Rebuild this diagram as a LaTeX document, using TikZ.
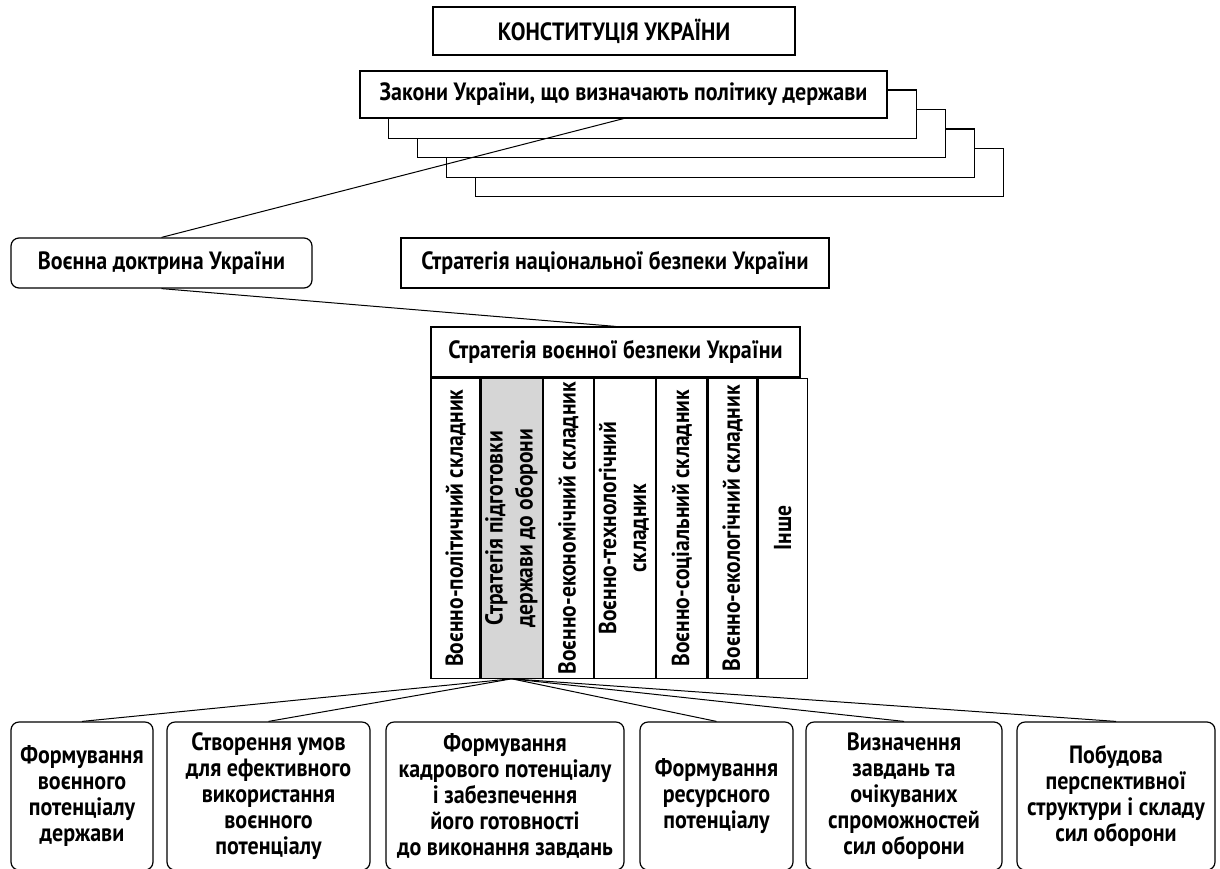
\documentclass[tikz,border=0pt]{standalone}
\usepackage{fontspec}
\setmainfont{PT Sans}[FakeStretch=0.88]
\usetikzlibrary{positioning,calc,backgrounds}

\tikzset{
    box/.style={draw, fill=white, line width=1.2pt, align=center, inner sep=0pt},
    rbox/.style={box, rounded corners=8pt},
    task/.style={rbox, minimum height=148pt, font=\fontsize{25}{26}\selectfont\bfseries},
    col/.style={draw, line width=1.2pt, minimum height=300pt, inner sep=0pt,
        font=\fontsize{24.5}{30}\selectfont\bfseries},
    link/.style={line width=1pt},
}

\begin{document}
\begin{tikzpicture}[x=1pt, y=-1pt, font=\fontsize{25}{28}\selectfont\bfseries]
            \useasboundingbox (0,0) rectangle (1220,868);
            \clip (0,0) rectangle (1220,868);
            % top of the hierarchy
            \node[box, minimum width=362pt, minimum height=48pt] (konst) at (614,31) {КОНСТИТУЦІЯ УКРАЇНИ};
            \node[box, minimum width=527pt, minimum height=47pt] (laws) at (623.5,94.5) {Закони України, що визначають політику держави};
            \begin{scope}[on background layer]
                \foreach \i in {4,3,2,1}
                    \draw[box] ($(laws.north west)+(29*\i,19.5*\i)$) rectangle ($(laws.south east)+(29*\i,19.5*\i)$);
            \end{scope}
            \node[rbox, minimum width=301pt, minimum height=50pt] (doctr) at (161.5,263) {Воєнна доктрина України};
            \node[box, minimum width=428pt, minimum height=50pt] (natsec) at (615,263) {Стратегія національної безпеки України};
            % strategy table
            \node[box, minimum width=369pt, minimum height=50pt] (svb) at (615.5,352) {Стратегія воєнної безпеки України};
            \node[col, minimum width=49pt, anchor=north west] (c1) at (svb.south west) {\rotatebox{90}{Воєнно-політичний складник}};
            \node[col, minimum width=61pt, fill=gray!32, right=0pt of c1] (c2) {\rotatebox{90}{\begin{tabular}{@{}c@{}}Стратегія підготовки\\держави до оборони\end{tabular}}};
            \node[col, minimum width=50pt, right=0pt of c2] (c3) {\rotatebox{90}{Воєнно-економічний складник}};
            \node[col, minimum width=61pt, right=0pt of c3] (c4) {\rotatebox{90}{\begin{tabular}{@{}c@{}}Воєнно-технологічний\\складник\end{tabular}}};
            \node[col, minimum width=50pt, right=0pt of c4] (c5) {\rotatebox{90}{Воєнно-соціальний складник}};
            \node[col, minimum width=49pt, right=0pt of c5] (c6) {\rotatebox{90}{Воєнно-екологічний складник}};
            \node[col, minimum width=49pt, right=0pt of c6] (c7) {\rotatebox{90}{Інше}};
            % tasks
            \node[task, minimum width=142pt] (b1) at (82,796) {Формування\\воєнного\\потенціалу\\держави};
            \node[task, minimum width=203pt] (b2) at (268.5,796) {Створення умов\\для ефективного\\використання\\воєнного\\потенціалу};
            \node[task, minimum width=238pt] (b3) at (505,796) {Формування\\кадрового потенціалу\\і забезпечення\\його готовності\\до виконання завдань};
            \node[task, minimum width=153pt] (b4) at (716.5,796) {Формування\\ресурсного\\потенціалу};
            \node[task, minimum width=196pt] (b5) at (904,796) {Визначення\\завдань та\\очікуваних\\спроможностей\\сил оборони};
            \node[task, minimum width=198pt] (b6) at (1116,796) {Побудова\\перспективної\\структури і складу\\сил оборони};
            \draw[link] (laws.south) -- (doctr.north);
            \draw[link] (doctr.south) -- (svb.north);
            \foreach \b in {b1,b2,b4,b5,b6}
                \draw[link] (c2.south) -- (\b.north);
        \end{tikzpicture}
\end{document}
